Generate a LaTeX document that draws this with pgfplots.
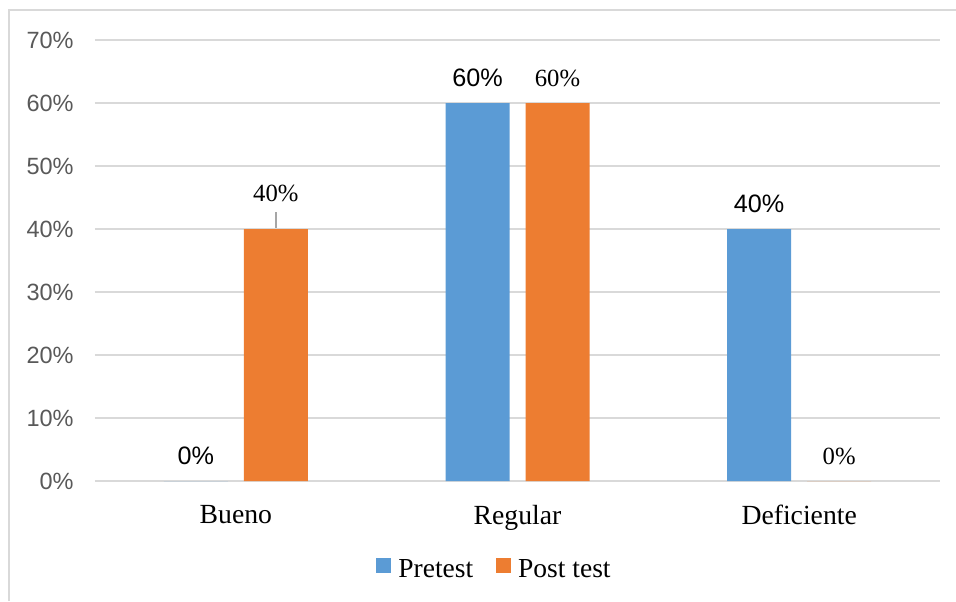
\documentclass[border=0pt]{standalone}
\usepackage{pgfplots}
\pgfplotsset{compat=1.18}
\usepackage{pgfplotstable}
\usepackage{fontspec}
\setmainfont{Liberation Serif}
\newfontfamily\arial{Liberation Sans}

\definecolor{preblue}{RGB}{91,155,213}
\definecolor{postorange}{RGB}{237,125,49}
\definecolor{gridgray}{RGB}{217,217,217}
\definecolor{tickgray}{RGB}{89,89,89}
\definecolor{leadgray}{RGB}{166,166,166}

% values in percent; lead=1 marks the label drawn with a leader line
\pgfplotstableread{
x y lead
0 0 0
1 60 0
2 40 0
}\pretest
\pgfplotstableread{
x y lead
0 40 1
1 60 0
2 0 0
}\posttest

\begin{document}
\begin{tikzpicture}[x=1pt,y=1pt]
\useasboundingbox (0,0) rectangle (478,300.5);
\draw[gridgray, line width=0.75pt] (4.5,0) -- (4.5,295.5) -- (478,295.5);
\begin{axis}[
  at={(47.5pt,60pt)}, anchor=south west,
  scale only axis, width=422.5pt, height=220.5pt,
  xmin=-0.5, xmax=2.5, ymin=0, ymax=70,
  ybar=8pt, bar width=32pt,
  clip=false,
  axis line style={draw=none},
  major tick length=0pt,
  ymajorgrids, grid style={gridgray, line width=0.7pt},
  xtick={0,1,2}, xticklabels={Bueno,Regular,Deficiente},
  xticklabel style={font=\fontsize{13.85}{16}\selectfont, inner sep=0pt, anchor=north, yshift=-12pt},
  ytick={0,10,...,70},
  yticklabels={0\%,10\%,20\%,30\%,40\%,50\%,60\%,70\%},
  yticklabel style={font=\arial\fontsize{11.75}{14}\selectfont, text=tickgray, inner sep=0pt, anchor=east, xshift=-10.5pt},
  /pgf/number format/assume math mode=true,
  legend columns=2,
  legend style={at={(0.4716,-0.1995)}, anchor=center, draw=none, fill=none, inner sep=0pt,
    font=\fontsize{13.75}{16}\selectfont, nodes={inner sep=0pt},
    /tikz/every odd column/.append style={column sep=3.5pt},
    /tikz/every even column/.append style={column sep=11.5pt}},
  legend image code/.code={\fill[#1] (0pt,-1.7pt) rectangle (7.5pt,5.8pt);},
]
\addplot[fill=preblue, draw=none,
  nodes near coords={\pgfmathprintnumber{\pgfplotspointmeta}\%},
  every node near coord/.append style={font=\arial\fontsize{12.6}{15}\selectfont, text=black, anchor=south, inner sep=0pt, yshift=8pt}]
  table[x=x, y=y] {\pretest};
\addlegendentry{Pretest}
\addplot[fill=postorange, draw=none,
  visualization depends on={\thisrow{lead} \as \lead},
  nodes near coords={\ifdim\lead pt>0.5pt \raisebox{-8pt}[0pt][0pt]{\shortstack{\pgfmathprintnumber{\pgfplotspointmeta}\%\\[2pt]{\color{leadgray}\rule{0.75pt}{8pt}}}}\else\pgfmathprintnumber{\pgfplotspointmeta}\%\fi},
  every node near coord/.append style={font=\fontsize{12.35}{15}\selectfont, text=black, anchor=south, inner sep=0pt, yshift=8pt}]
  table[x=x, y=y] {\posttest};
\addlegendentry{Post test}
\end{axis}
\end{tikzpicture}
\end{document}
